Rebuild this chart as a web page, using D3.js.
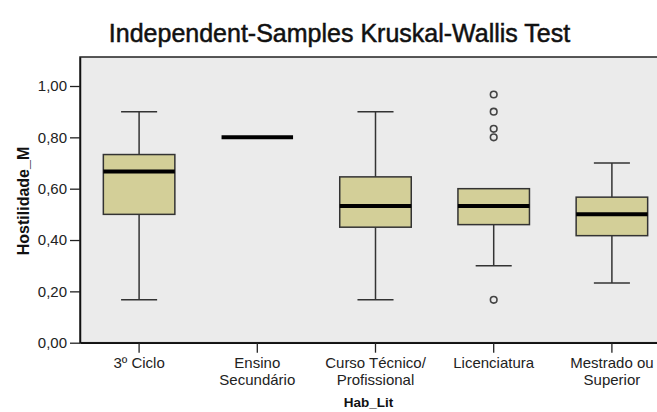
<!DOCTYPE html>
<html>
<head>
<meta charset="utf-8">
<script src="https://cdn.jsdelivr.net/npm/d3@7"></script>
<style>
  body { margin: 0; background: #fff; }
  svg { display: block; font-family: "Liberation Sans", Arial, sans-serif; }
</style>
</head>
<body>
<svg width="657" height="412"></svg>
<script>
// data
var categories = ["3º Ciclo", "Ensino|Secundário", "Curso Técnico/|Profissional", "Licenciatura", "Mestrado ou|Superior"];
var lowWhisker  = [0.167, 0.80, 0.167, 0.300, 0.233];
var q1          = [0.500, 0.80, 0.450, 0.460, 0.417];
var medians     = [0.667, 0.80, 0.533, 0.533, 0.500];
var q3          = [0.733, 0.80, 0.646, 0.600, 0.567];
var highWhisker = [0.900, 0.80, 0.900, 0.600, 0.700];
var outlierCat  = ["Licenciatura", "Licenciatura", "Licenciatura", "Licenciatura", "Licenciatura"];
var outlierVal  = [0.967, 0.900, 0.833, 0.800, 0.167];
var yTicks      = [0, 0.2, 0.4, 0.6, 0.8, 1.0];

var svg = d3.select("svg");

var plot = {left: 80, top: 57, right: 671, bottom: 342.7};

var x = d3.scaleBand().domain(categories).range([plot.left, plot.right]).padding(0);
var y = d3.scaleLinear().domain([0, 1.113]).range([plot.bottom, plot.top]);

var ptBr = d3.formatLocale({decimal: ",", thousands: ".", grouping: [3], currency: ["R$", ""]});
var fmt = ptBr.format(".2f");

var boxes = categories.map(function(c, i) {
  return {cat: c, lo: lowWhisker[i], q1: q1[i], med: medians[i], q3: q3[i], hi: highWhisker[i]};
});

// background
svg.append("rect")
    .attr("x", plot.left).attr("y", plot.top)
    .attr("width", plot.right - plot.left).attr("height", plot.bottom - plot.top)
    .attr("fill", "#ebebeb")
    .attr("stroke", "#222").attr("stroke-width", 1.5);

// title
svg.append("text")
    .attr("x", 339.5).attr("y", 42)
    .attr("text-anchor", "middle")
    .attr("font-size", 25)
    .attr("fill", "#111")
    .attr("stroke", "#111").attr("stroke-width", 0.5)
    .text("Independent-Samples Kruskal-Wallis Test");

var boxW = x.bandwidth() * 0.605,
    capW = x.bandwidth() * 0.305;

var g = svg.append("g");

var box = g.selectAll(".box")
  .data(boxes)
  .enter().append("g")
    .attr("class", "box")
    .attr("transform", function(d) { return "translate(" + (x(d.cat) + x.bandwidth() / 2) + ",0)"; });

box.filter(function(d) { return d.hi > d.lo; }).each(function(d) {
  var b = d3.select(this);
  b.append("line").attr("x1", 0).attr("x2", 0).attr("y1", y(d.q3)).attr("y2", y(d.hi))
      .attr("stroke", "#333").attr("stroke-width", 1.5);
  b.append("line").attr("x1", 0).attr("x2", 0).attr("y1", y(d.q1)).attr("y2", y(d.lo))
      .attr("stroke", "#333").attr("stroke-width", 1.5);
  if (d.hi > d.q3) {
    b.append("line").attr("x1", -capW / 2).attr("x2", capW / 2).attr("y1", y(d.hi)).attr("y2", y(d.hi))
        .attr("stroke", "#333").attr("stroke-width", 1.5);
  }
  b.append("line").attr("x1", -capW / 2).attr("x2", capW / 2).attr("y1", y(d.lo)).attr("y2", y(d.lo))
      .attr("stroke", "#333").attr("stroke-width", 1.5);
  b.append("rect")
      .attr("x", -boxW / 2).attr("width", boxW)
      .attr("y", y(d.q3)).attr("height", y(d.q1) - y(d.q3))
      .attr("fill", "#d3cf98").attr("stroke", "#333").attr("stroke-width", 1.5);
});

box.append("line")
    .attr("x1", -boxW / 2).attr("x2", boxW / 2)
    .attr("y1", function(d) { return y(d.med); })
    .attr("y2", function(d) { return y(d.med); })
    .attr("stroke", "#000").attr("stroke-width", 4);

// outliers
g.selectAll(".outlier")
  .data(outlierVal)
  .enter().append("circle")
    .attr("class", "outlier")
    .attr("cx", function(d, i) { return x(outlierCat[i]) + x.bandwidth() / 2; })
    .attr("cy", function(d) { return y(d); })
    .attr("r", 3.3)
    .attr("fill", "none")
    .attr("stroke", "#444").attr("stroke-width", 1.6);

// axes
var yAxis = svg.append("g")
    .attr("transform", "translate(" + plot.left + ",0)")
    .call(d3.axisLeft(y).tickValues(yTicks).tickFormat(fmt).tickSize(10).tickSizeOuter(0).tickPadding(3));
yAxis.select(".domain").attr("stroke", "#111").attr("stroke-width", 1.5);
yAxis.selectAll(".tick line").attr("stroke", "#222").attr("stroke-width", 1.3);
yAxis.selectAll(".tick text").attr("font-size", 15).attr("font-family", null).attr("fill", "#222");

var xAxis = svg.append("g")
    .attr("transform", "translate(0," + plot.bottom + ")")
    .call(d3.axisBottom(x).tickSize(10).tickSizeOuter(0).tickPadding(3));
xAxis.select(".domain").attr("stroke", "#111").attr("stroke-width", 1.5);
xAxis.selectAll(".tick line").attr("stroke", "#222").attr("stroke-width", 1.3);
xAxis.selectAll(".tick text").remove();
xAxis.selectAll(".tick").append("text")
    .attr("text-anchor", "middle")
    .attr("font-size", 15)
    .attr("fill", "#222")
    .each(function(d) {
      var t = d3.select(this);
      d.split("|").forEach(function(line, k) {
        t.append("tspan").attr("x", 0).attr("y", 25.6 + k * 16.6).text(line);
      });
    });

// axis titles
svg.append("text")
    .attr("x", 368.5).attr("y", 406.5)
    .attr("text-anchor", "middle")
    .attr("font-size", 13.5).attr("font-weight", "bold")
    .attr("fill", "#111")
    .text("Hab_Lit");

svg.append("text")
    .attr("transform", "translate(29," + 201 + ") rotate(-90)")
    .attr("text-anchor", "middle")
    .attr("font-size", 16).attr("font-weight", "bold")
    .attr("fill", "#111")
    .text("Hostilidade_M");
</script>
</body>
</html>
